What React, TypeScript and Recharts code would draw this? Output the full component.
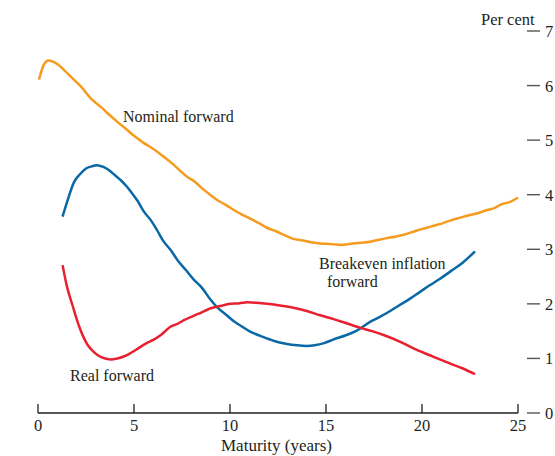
import React from 'react';
import { LineChart, Line, XAxis, YAxis } from 'recharts';

// maturity (years) / per cent
const nominalMaturity = [0.05, 0.3, 0.54, 1.02, 1.37, 1.72, 2.24, 2.76, 3.3, 3.7, 4.15, 4.6, 5.0, 5.5, 6.05, 6.5, 7.0, 7.4, 7.8, 8.2, 8.5, 9.0, 9.35, 9.8, 10.2, 10.6, 11.0, 11.5, 11.95, 12.4, 12.9, 13.3, 13.8, 14.2, 14.6, 15.0, 15.4, 15.8, 16.3, 16.8, 17.3, 17.7, 18.1, 18.6, 19.1, 19.7, 20.2, 20.7, 21.1, 21.5, 22.0, 22.4, 22.9, 23.4, 23.8, 24.1, 24.6, 25.0];
const nominalValues = [6.11, 6.38, 6.46, 6.39, 6.28, 6.16, 5.98, 5.76, 5.6, 5.47, 5.33, 5.2, 5.08, 4.95, 4.83, 4.71, 4.57, 4.44, 4.32, 4.23, 4.13, 3.99, 3.9, 3.81, 3.72, 3.64, 3.57, 3.48, 3.39, 3.33, 3.25, 3.19, 3.16, 3.13, 3.11, 3.1, 3.09, 3.08, 3.1, 3.12, 3.14, 3.17, 3.2, 3.23, 3.27, 3.34, 3.39, 3.44, 3.48, 3.53, 3.58, 3.62, 3.66, 3.72, 3.76, 3.82, 3.87, 3.95];

const breakevenMaturity = [1.28, 1.5, 1.89, 2.2, 2.5, 2.8, 3.05, 3.4, 3.7, 4.0, 4.3, 4.6, 4.85, 5.2, 5.5, 5.9, 6.2, 6.55, 6.9, 7.25, 7.7, 8.1, 8.5, 9.0, 9.35, 9.8, 10.2, 10.6, 11.05, 11.6, 12.3, 12.9, 13.5, 14.0, 14.4, 14.9, 15.4, 16.0, 16.6, 17.3, 17.8, 18.3, 18.8, 19.4, 19.9, 20.4, 20.9, 21.5, 22.1, 22.76];
const breakevenValues = [3.6, 3.85, 4.24, 4.38, 4.48, 4.52, 4.54, 4.51, 4.45, 4.36, 4.27, 4.16, 4.05, 3.88, 3.7, 3.52, 3.35, 3.14, 2.99, 2.81, 2.62, 2.45, 2.31, 2.07, 1.93, 1.8, 1.68, 1.59, 1.49, 1.41, 1.32, 1.27, 1.24, 1.23, 1.24, 1.28, 1.35, 1.42, 1.51, 1.67, 1.76, 1.86, 1.97, 2.1, 2.22, 2.34, 2.45, 2.6, 2.75, 2.96];

const realMaturity = [1.28, 1.5, 1.8, 2.15, 2.58, 2.9, 3.2, 3.5, 3.8, 4.14, 4.5, 4.83, 5.2, 5.7, 6.0, 6.4, 6.9, 7.3, 7.6, 8.1, 8.5, 9.0, 9.5, 10.0, 10.5, 10.9, 11.4, 11.95, 12.6, 13.3, 14.0, 14.7, 15.4, 16.1, 16.8, 17.4, 18.0, 18.9, 19.7, 20.6, 21.5, 22.1, 22.76];
const realValues = [2.71, 2.33, 1.97, 1.58, 1.25, 1.12, 1.04, 1.0, 0.98, 1.0, 1.04, 1.1, 1.18, 1.29, 1.34, 1.43, 1.58, 1.64, 1.7, 1.78, 1.84, 1.92, 1.96, 2.0, 2.01, 2.03, 2.02, 2.0, 1.97, 1.93, 1.87, 1.79, 1.72, 1.64, 1.56, 1.5, 1.43, 1.3, 1.16, 1.03, 0.9, 0.82, 0.71];

const xTicks = [0, 5, 10, 15, 20, 25];
const yTicks = [0, 1, 2, 3, 4, 5, 6, 7];

const toRows = (ms: number[], vs: number[]) => ms.map((m, i) => ({ m, v: vs[i] }));

const nominalData = toRows(nominalMaturity, nominalValues);
const breakevenData = toRows(breakevenMaturity, breakevenValues);
const realData = toRows(realMaturity, realValues);

const FONT = '"Liberation Serif", "Times New Roman", serif';
const TEXT = '#231f20';
const DASH = '#555';

const XTick = ({ x, y, payload }: any) => (
  <g>
    <line x1={x} x2={x} y1={y} y2={y - 9} stroke="#222" strokeWidth={1.3} />
    <text x={x} y={y + 18} textAnchor="middle" fontFamily={FONT} fontSize={16.5} fill={TEXT}>
      {payload.value}
    </text>
  </g>
);

const LeftTick = ({ x, y }: any) => (
  <line x1={x - 23} x2={x - 8.5} y1={y} y2={y} stroke={DASH} strokeWidth={1.4} />
);

const RightTick = ({ x, y, payload }: any) => (
  <g>
    <line x1={x + 9} x2={x + 22} y1={y} y2={y} stroke={DASH} strokeWidth={1.4} />
    <text x={x + 27} y={y + 6} fontFamily={FONT} fontSize={16.5} fill={TEXT}>
      {payload.value}
    </text>
  </g>
);

export default function App() {
  return (
    <div style={{ position: 'absolute', left: 0, top: 0, width: 555, height: 456, background: '#fff' }}>
      <LineChart width={555} height={456} margin={{ top: 31, right: 0, left: 8, bottom: 0 }}>
        <XAxis
          dataKey="m"
          type="number"
          domain={[0, 25]}
          ticks={xTicks}
          height={43}
          tickSize={0}
          tickMargin={0}
          tickLine={false}
          axisLine={{ stroke: '#222', strokeWidth: 1.3 }}
          tick={<XTick />}
          allowDuplicatedCategory={false}
        />
        <YAxis
          yAxisId="left"
          orientation="left"
          domain={[0, 7]}
          ticks={yTicks}
          width={30}
          tickSize={0}
          tickMargin={0}
          tickLine={false}
          axisLine={false}
          tick={<LeftTick />}
        />
        <YAxis
          yAxisId="right"
          orientation="right"
          domain={[0, 7]}
          ticks={yTicks}
          width={37}
          tickSize={0}
          tickMargin={0}
          tickLine={false}
          axisLine={false}
          tick={<RightTick />}
        />
        <Line yAxisId="right" data={nominalData} dataKey="v" type="monotone" stroke="#f59b1f" strokeWidth={2.5} dot={false} isAnimationActive={false} />
        <Line yAxisId="right" data={breakevenData} dataKey="v" type="monotone" stroke="#0a68a6" strokeWidth={2.5} dot={false} isAnimationActive={false} />
        <Line yAxisId="right" data={realData} dataKey="v" type="monotone" stroke="#e8202f" strokeWidth={2.5} dot={false} isAnimationActive={false} />
      </LineChart>
      <svg width={555} height={456} style={{ position: 'absolute', left: 0, top: 0, pointerEvents: 'none' }}>
        <g fontFamily={FONT} fontSize={16} fill={TEXT}>
          <text x={481} y={25} fontSize={16.5}>Per cent</text>
          <text x={123} y={122}>Nominal forward</text>
          <text x={319} y={269}>Breakeven inflation</text>
          <text x={327} y={287}>forward</text>
          <text x={70} y={381}>Real forward</text>
          <text x={221} y={451} fontSize={17}>Maturity (years)</text>
        </g>
      </svg>
    </div>
  );
}
